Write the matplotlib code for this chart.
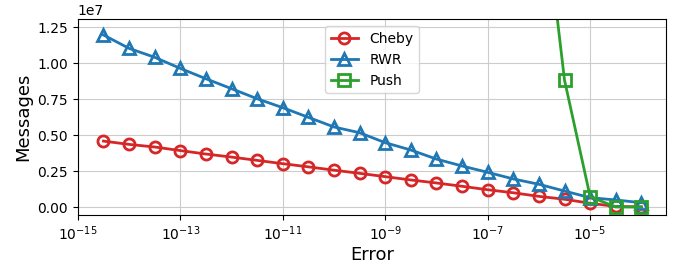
import matplotlib
matplotlib.use('Agg')
import matplotlib.pyplot as plt
from matplotlib.ticker import MultipleLocator

# error tolerance (x), half-decade steps
errors = [3.16e-15, 1e-14, 3.16e-14, 1e-13, 3.16e-13, 1e-12, 3.16e-12, 1e-11,
          3.16e-11, 1e-10, 3.16e-10, 1e-9, 3.16e-9, 1e-8, 3.16e-8, 1e-7,
          3.16e-7, 1e-6, 3.16e-6, 1e-5, 3.16e-5, 1e-4]

cheby = [4.60e6, 4.37e6, 4.19e6, 3.94e6, 3.70e6, 3.49e6, 3.26e6, 3.03e6,
         2.81e6, 2.58e6, 2.36e6, 2.13e6, 1.90e6, 1.69e6, 1.46e6, 1.22e6,
         1.01e6, 0.76e6, 0.56e6, 0.28e6, 0.06e6, 0.03e6]
rwr = [11.97e6, 11.04e6, 10.42e6, 9.65e6, 8.93e6, 8.24e6, 7.54e6, 6.92e6,
       6.25e6, 5.58e6, 5.18e6, 4.49e6, 3.98e6, 3.35e6, 2.87e6, 2.43e6,
       1.97e6, 1.60e6, 1.13e6, 0.67e6, 0.51e6, 0.32e6]

push_errors = [1e-6, 3.16e-6, 1e-5, 3.16e-5, 1e-4]
push = [2.4e7, 8.84e6, 0.74e6, 0.02e6, 0.02e6]

fig, ax = plt.subplots(figsize=(6.77, 2.68), dpi=100)
plt.subplots_adjust(left=0.115, right=0.984, top=0.928, bottom=0.198)

style = dict(linewidth=2, markersize=8, markerfacecolor='none', markeredgewidth=2)
ax.plot(errors, cheby, color='tab:red', marker='o', label='Cheby', **style)
ax.plot(errors, rwr, color='tab:blue', marker='^', label='RWR', **style)
ax.plot(push_errors, push, color='tab:green', marker='s', label='Push', **style)

ax.set_xscale('log')
ax.set_xlim(1e-15, 3.05e-4)
ax.set_xticks([1e-15, 1e-13, 1e-11, 1e-9, 1e-7, 1e-5])
ax.set_ylim(-0.53e6, 1.306e7)
ax.yaxis.set_major_locator(MultipleLocator(2.5e6))
ax.grid(True, color='#cccccc')
ax.tick_params(labelsize=10)

ax.set_xlabel('Error', fontsize=13, labelpad=2)
ax.set_ylabel('Messages', fontsize=13)
ax.legend(loc='upper center', fontsize=10)

fig.savefig('out.png', dpi=100)
